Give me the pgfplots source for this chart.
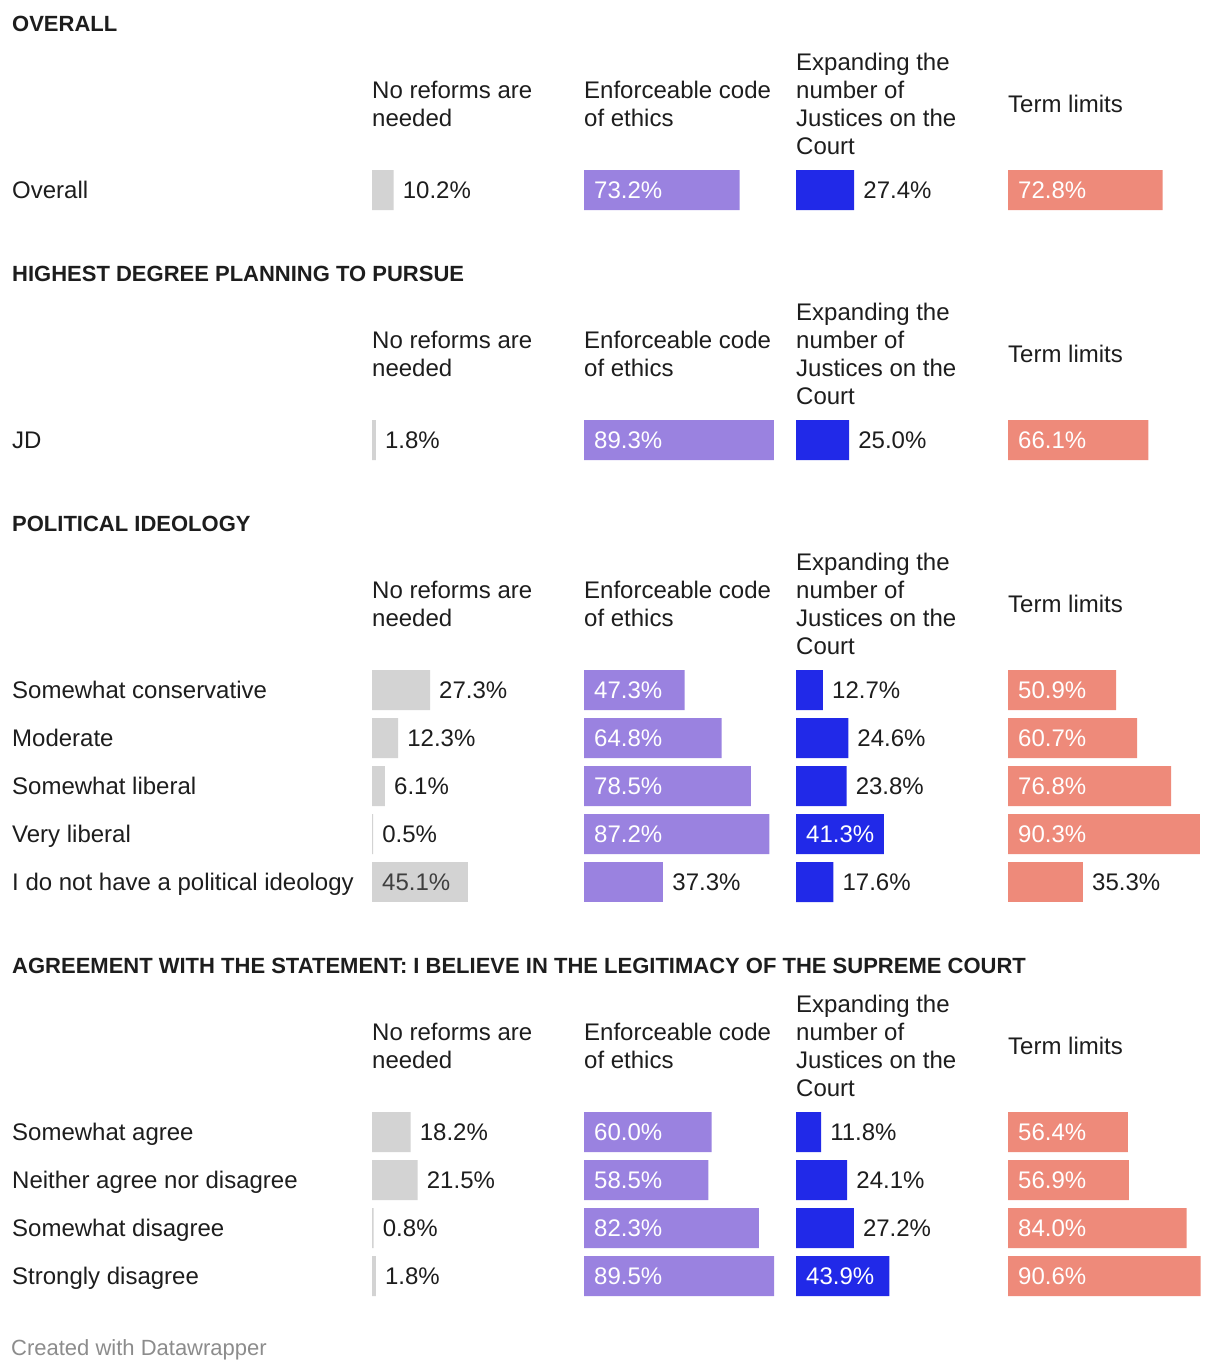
\documentclass[border=0pt]{standalone}
\usepackage{pgfplots}
\pgfplotsset{compat=1.18}
\usepackage{fontspec}
\setmainfont{Liberation Sans}
\definecolor{cgray}{HTML}{D3D3D3}
\definecolor{cpurple}{HTML}{9A82E0}
\definecolor{cblue}{HTML}{2129E8}
\definecolor{csalmon}{HTML}{EE8A7A}
\definecolor{ctext}{HTML}{1D1D1D}
\definecolor{cfoot}{HTML}{8C8C8C}
\newcommand\bodyfont{\fontsize{24}{28}\selectfont}
\newcommand\hdfont{\fontsize{22}{26}\selectfont\bfseries}
% text line: x, y-center (pixels), text
\newcommand\txt[3]{\node[anchor=base west, inner sep=0pt, font=\bodyfont, text=ctext] at ({#1pt},{-(#2+8.6)*1pt}) {#3};}
\newcommand\sechd[2]{\node[anchor=base west, inner sep=0pt, font=\hdfont, text=ctext] at (12pt,{-(#1+7.9)*1pt}) {#2};}
\newcommand\colheads[1]{%
  \txt{372}{#1+28}{No reforms are}\txt{372}{#1+56}{needed}%
  \txt{584}{#1+28}{Enforceable code}\txt{584}{#1+56}{of ethics}%
  \txt{796}{#1}{Expanding the}\txt{796}{#1+28}{number of}\txt{796}{#1+56}{Justices on the}\txt{796}{#1+84}{Court}%
  \txt{1008}{#1+42}{Term limits}}
\pgfplotsset{
  colaxis/.style={hide axis, scale only axis, x=2.125pt, y=1pt, y dir=reverse,
    xmin=0, xmax=99, ymin=0, ymax=1372, clip=false, anchor=north west,
    /pgf/number format/assume math mode=true},
  bars/.style={xbar, bar width=40pt, bar shift=0pt, draw=none, fill=#1, point meta=x,
    nodes near coords={\pgfmathprintnumber[fixed,fixed zerofill,precision=1]{\pgfplotspointmeta}\%}},
  outlbl/.style={every node near coord/.append style={anchor=west, inner sep=0pt, xshift=9pt, font=\bodyfont, text=ctext}},
  inlbl/.style={visualization depends on={rawx \as \rx},
    every node near coord/.append style={anchor=west, inner sep=0pt, xshift={10pt-\rx*2.125pt}, font=\bodyfont, text=#1}},
}
\begin{document}
\begin{tikzpicture}
\path[use as bounding box] (0pt,0pt) rectangle (1220pt,-1372pt);
% section headers
\sechd{24}{OVERALL}
\sechd{274}{HIGHEST DEGREE PLANNING TO PURSUE}
\sechd{524}{POLITICAL IDEOLOGY}
\sechd{966}{AGREEMENT WITH THE STATEMENT: I BELIEVE IN THE LEGITIMACY OF THE SUPREME COURT}
% column headers
\colheads{62}
\colheads{312}
\colheads{562}
\colheads{1004}
% row labels
\txt{12}{190}{Overall}
\txt{12}{440}{JD}
\txt{12}{690}{Somewhat conservative}
\txt{12}{738}{Moderate}
\txt{12}{786}{Somewhat liberal}
\txt{12}{834}{Very liberal}
\txt{12}{882}{I do not have a political ideology}
\txt{12}{1132}{Somewhat agree}
\txt{12}{1180}{Neither agree nor disagree}
\txt{12}{1228}{Somewhat disagree}
\txt{12}{1276}{Strongly disagree}
\node[anchor=base west, inner sep=0pt, font=\fontsize{22}{26}\selectfont, text=cfoot] at (11pt,{-(1348+7.9)*1pt}) {Created with Datawrapper};

% No reforms are needed
\begin{axis}[colaxis, at={(372pt,0pt)}]
\addplot[bars=cgray, outlbl] coordinates {(10.2,190) (1.8,440) (27.3,690) (12.3,738) (6.1,786) (0.5,834) (18.2,1132) (21.5,1180) (0.8,1228) (1.8,1276)};
\addplot[bars=cgray, inlbl=ctext!85] coordinates {(45.1,882)};
\end{axis}
% Enforceable code of ethics
\begin{axis}[colaxis, at={(584pt,0pt)}]
\addplot[bars=cpurple, inlbl=white] coordinates {(73.2,190) (89.3,440) (47.3,690) (64.8,738) (78.5,786) (87.2,834) (60.0,1132) (58.5,1180) (82.3,1228) (89.5,1276)};
\addplot[bars=cpurple, outlbl] coordinates {(37.3,882)};
\end{axis}
% Expanding the number of Justices
\begin{axis}[colaxis, at={(796pt,0pt)}]
\addplot[bars=cblue, outlbl] coordinates {(27.4,190) (25.0,440) (12.7,690) (24.6,738) (23.8,786) (17.6,882) (11.8,1132) (24.1,1180) (27.2,1228)};
\addplot[bars=cblue, inlbl=white] coordinates {(41.3,834) (43.9,1276)};
\end{axis}
% Term limits
\begin{axis}[colaxis, at={(1008pt,0pt)}]
\addplot[bars=csalmon, inlbl=white] coordinates {(72.8,190) (66.1,440) (50.9,690) (60.7,738) (76.8,786) (90.3,834) (56.4,1132) (56.9,1180) (84.0,1228) (90.6,1276)};
\addplot[bars=csalmon, outlbl] coordinates {(35.3,882)};
\end{axis}
\end{tikzpicture}
\end{document}
